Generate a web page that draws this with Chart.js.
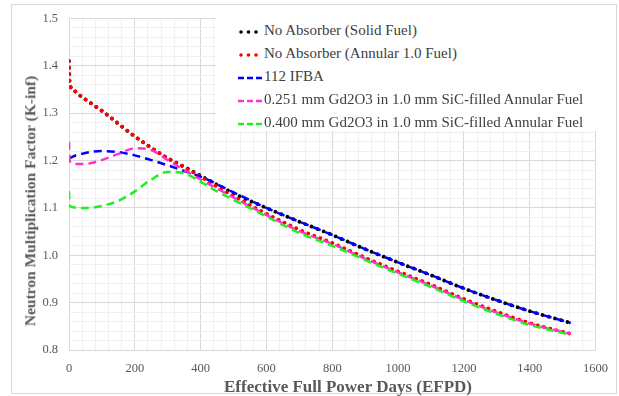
<!DOCTYPE html>
<html>
<head>
<meta charset="utf-8">
<script src="https://cdn.jsdelivr.net/npm/chart.js@4"></script>
<style>
  body { margin: 0; background: #fff; }
  #wrap { position: relative; width: 619px; height: 396px; font-family: "Liberation Serif", "Times New Roman", serif; }
  #frame { position: absolute; left: 11px; top: 4px; width: 604px; height: 388px; border: 1px solid #d9d9d9; pointer-events: none; }
  #legend { position: absolute; left: 216px; top: 17px; width: 382px; height: 114px; background: #fff;
            font-size: 15px; color: #404040; }
  #legend div { position: absolute; left: 22px; height: 20px; line-height: 20px; white-space: nowrap; }
  #legend svg { vertical-align: middle; margin-right: 1px; }
  .axis-title { position: absolute; font-weight: bold; color: #595959; white-space: nowrap; line-height: 1; }
  #xTitle { font-size: 17px; left: 348px; top: 386px; transform: translate(-50%, -50%); }
  #yTitle { font-size: 15.5px; left: 30px; top: 201px; transform: translate(-50%, -50%) rotate(-90deg); }
</style>
</head>
<body>
<div id="wrap">
  <canvas id="myChart" width="619" height="396"></canvas>
  <div id="frame"></div>
  <div id="legend"></div>
  <div class="axis-title" id="xTitle">Effective Full Power Days (EFPD)</div>
  <div class="axis-title" id="yTitle">Neutron Multiplication Factor (K-inf)</div>
</div>
<script>
// EFPD sample points shared by all series
const efpd = [0, 2, 10, 25, 50, 75, 100, 150, 200, 250, 300, 350, 400, 450, 500, 600, 700, 800, 900, 1000, 1100, 1200, 1300, 1400, 1525];

const solidFuel   = [1.41, 1.365, 1.352, 1.342, 1.329, 1.317, 1.305, 1.278, 1.251, 1.227, 1.205, 1.187, 1.168, 1.149, 1.131, 1.100, 1.071, 1.043, 1.013, 0.985, 0.958, 0.930, 0.905, 0.882, 0.857];
const annularFuel = [1.41, 1.365, 1.352, 1.342, 1.329, 1.317, 1.305, 1.278, 1.251, 1.227, 1.205, 1.186, 1.166, 1.145, 1.125, 1.088, 1.054, 1.026, 0.995, 0.966, 0.938, 0.908, 0.881, 0.857, 0.834];
const ifba112     = [1.204, 1.205, 1.208, 1.212, 1.216, 1.219, 1.220, 1.218, 1.211, 1.201, 1.190, 1.178, 1.166, 1.150, 1.133, 1.100, 1.071, 1.043, 1.013, 0.985, 0.958, 0.930, 0.905, 0.882, 0.857];
const gd251       = [1.240, 1.200, 1.195, 1.193, 1.193, 1.196, 1.201, 1.214, 1.226, 1.222, 1.201, 1.180, 1.160, 1.141, 1.122, 1.085, 1.051, 1.024, 0.993, 0.964, 0.936, 0.906, 0.879, 0.856, 0.834];
const gd400       = [1.135, 1.105, 1.102, 1.100, 1.100, 1.101, 1.104, 1.115, 1.135, 1.160, 1.176, 1.173, 1.155, 1.135, 1.117, 1.082, 1.047, 1.020, 0.990, 0.961, 0.933, 0.903, 0.876, 0.853, 0.832];

const seriesNames = [
  'No Absorber (Solid Fuel)',
  'No Absorber (Annular 1.0 Fuel)',
  '112 IFBA',
  '0.251 mm Gd2O3 in 1.0 mm SiC-filled Annular Fuel',
  '0.400 mm Gd2O3 in 1.0 mm SiC-filled Annular Fuel'
];
const seriesValues = [solidFuel, annularFuel, ifba112, gd251, gd400];
const seriesColors = ['#000000', '#ff0000', '#0000ff', '#ff33cc', '#22ee22'];
const dotted = [true, true, false, false, false];

function toPoints(vals) {
  return vals.map((v, i) => ({ x: efpd[i], y: v }));
}

// absorbers first, the dotted no-absorber lines on top
const order = [4, 3, 2, 1, 0];
const datasets = order.map(i => ({
  label: seriesNames[i],
  data: toPoints(seriesValues[i]),
  borderColor: seriesColors[i],
  backgroundColor: seriesColors[i],
  borderWidth: dotted[i] ? 3.8 : 2.5,
  borderDash: dotted[i] ? [0.01, 6.5] : [8, 5],
  borderCapStyle: dotted[i] ? 'round' : 'butt',
  pointRadius: 0,
  cubicInterpolationMode: 'monotone',
  fill: false
}));

const serif = '"Liberation Serif", "Times New Roman", serif';

const config = {
  type: 'line',
  data: { datasets: datasets },
  options: {
    responsive: false,
    animation: false,
    layout: { padding: { left: 12, top: 15, right: 22, bottom: 0 } },
    plugins: {
      legend: { display: false },
      tooltip: { enabled: false }
    },
    scales: {
      x: {
        type: 'linear',
        min: 0,
        max: 1600,
        afterFit: s => { s.height = 46; },
        border: { display: false },
        grid: {
          drawTicks: false,
          color: c => (Math.round(c.tick.value) % 200 === 0 ? '#d9d9d9' : '#f0f0f0')
        },
        ticks: {
          stepSize: 40,
          autoSkip: false,
          maxRotation: 0,
          padding: 11,
          color: '#595959',
          font: { family: serif, size: 12.5 },
          callback: v => (Math.round(v) % 200 === 0 ? String(Math.round(v)) : '')
        }
      },
      y: {
        min: 0.8,
        max: 1.5,
        afterFit: s => { s.width = 57; },
        border: { display: false },
        grid: {
          drawTicks: false,
          color: c => (Math.round(c.tick.value * 100) % 10 === 0 ? '#d9d9d9' : '#f0f0f0')
        },
        ticks: {
          stepSize: 0.02,
          autoSkip: false,
          padding: 11,
          color: '#595959',
          font: { family: serif, size: 12.5 },
          callback: v => (Math.round(v * 100) % 10 === 0 ? v.toFixed(1) : '')
        }
      }
    }
  }
};

const myChart = new Chart(document.getElementById('myChart'), config);

// legend sits inside the plot, top right
const legendBox = document.getElementById('legend');
seriesNames.forEach((name, i) => {
  const row = document.createElement('div');
  row.style.top = (3 + i * 23) + 'px';
  const dash = dotted[i]
    ? '<line x1="3" y1="6" x2="22" y2="6" stroke="' + seriesColors[i] + '" stroke-width="3.6" stroke-linecap="round" stroke-dasharray="0.01 7.5"/>'
    : '<line x1="0" y1="6" x2="24" y2="6" stroke="' + seriesColors[i] + '" stroke-width="2.4" stroke-dasharray="6 3"/>';
  row.innerHTML = '<svg width="25" height="12">' + dash + '</svg>' + name;
  legendBox.appendChild(row);
});
</script>
</body>
</html>
